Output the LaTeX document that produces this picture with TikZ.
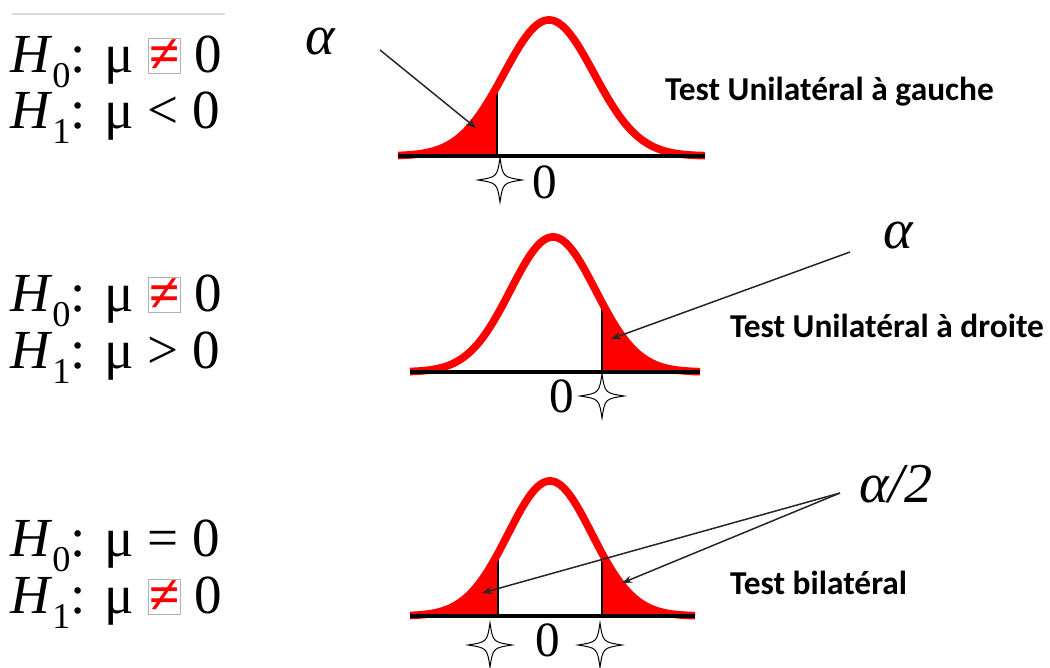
\documentclass[tikz,border=0pt]{standalone}
\usepackage{fontspec}
\setmainfont{Liberation Serif}
\newfontfamily\calibri{Carlito}
\usetikzlibrary{positioning, arrows.meta, calc}

% signe different encadre
\newcommand{\difere}{{\setlength{\fboxsep}{0.8pt}\setlength{\fboxrule}{0.5pt}\fcolorbox{gray!60}{white}{\textcolor{red}{\bfseries ≠}}}}
% H indice
\newcommand{\hyp}[1]{\textit{H}\raisebox{-0.28em}{\fontsize{31}{34}\selectfont #1}}

\tikzset{
  declare function={gauss(\x,\m,\s)=exp(-0.5*((\x-\m)/\s)^2);},
  courbe/.style={red, line width=2.3mm},
  axe/.style={black, line width=1.1mm},
  coupe/.style={black, line width=0.8mm},
  fleche/.style={black!85, line width=0.45mm, -{Stealth[length=3mm, width=2.2mm]}},
  hypo/.style={anchor=base west, inner sep=0pt, font=\fontsize{47}{52}\selectfont},
  titre/.style={anchor=west, inner sep=0pt, font=\calibri\bfseries\fontsize{28.5}{32}\selectfont},
  alfa/.style={inner sep=0pt, font=\fontsize{48}{52}\selectfont\itshape},
  zero/.style={inner sep=0pt, font=\fontsize{42}{46}\selectfont},
  etoile/.pic={\filldraw[fill=white, draw=black, line width=0.3mm]
    (0,-22) .. controls (3,-3) .. (22,0) .. controls (3,3) .. (0,22)
    .. controls (-3,3) .. (-22,0) .. controls (-3,-3) .. cycle;}
}

\begin{document}
\begin{tikzpicture}[x=0.3mm, y=-0.3mm]
    \useasboundingbox (0,0) rectangle (1050,668);
    % trait du haut
    \draw[blue!15!gray!25, line width=0.8mm] (12,14) -- (225,14);

    % Hypotheses
    \node[hypo] (hzeroa) at (10,72) {\hyp{0}: μ \difere{} 0};
    \node[hypo] (huna) at (10,128) {\hyp{1}: μ < 0};
    \node[hypo] (hzerob) at (10,311) {\hyp{0}: μ \difere{} 0};
    \node[hypo] (hunb) at (10,368) {\hyp{1}: μ > 0};
    \node[hypo] (hzeroc) at (10,556) {\hyp{0}: μ = 0};
    \node[hypo] (hunc) at (10,613) {\hyp{1}: μ \difere{} 0};

    % Test a gauche
    \fill[red] (398,156) -- plot[domain=398:497, samples=60] (\x, {156-136*gauss(\x,549,45)}) -- (497,156) -- cycle;
    \draw[coupe] (497,156) -- (497, {156-136*gauss(497,549,45)});
    \draw[courbe] plot[domain=398:705, samples=150] (\x, {156-136*gauss(\x,549,45)});
    \draw[axe] (398,156) -- (705,156);
    \pic at (500,180) {etoile};
    \node[zero] (zeroa) at (545,182) {0};
    \node[alfa] (alfaa) at (320,42) {α};
    \node[titre] (testa) at (665,92) {Test Unilatéral à gauche};
    \coordinate (departa) at (380,50);
    \coordinate (pointea) at (476,128);
    \draw[fleche] (departa) -- (pointea);

    % Test a droite
    \fill[red] (602,372) -- plot[domain=602:700, samples=60] (\x, {372-135*gauss(\x,553,42.5)}) -- (700,372) -- cycle;
    \draw[coupe] (602,372) -- (602, {372-135*gauss(602,553,42.5)});
    \draw[courbe] plot[domain=410:700, samples=150] (\x, {372-135*gauss(\x,553,42.5)});
    \draw[axe] (410,372) -- (700,372);
    \pic at (602,396) {etoile};
    \node[zero] (zerob) at (562,396) {0};
    \node[alfa] (alfab) at (898,236) {α};
    \node[titre] (testb) at (730,326) {Test Unilatéral à droite};
    \coordinate (departb) at (850,252);
    \coordinate (pointeb) at (611,339);
    \draw[fleche] (departb) -- (pointeb);

    % Test bilateral
    \fill[red] (410,616) -- plot[domain=410:498, samples=60] (\x, {616-135*gauss(\x,550,42)}) -- (498,616) -- cycle;
    \fill[red] (602,616) -- plot[domain=602:695, samples=60] (\x, {616-135*gauss(\x,550,42)}) -- (695,616) -- cycle;
    \draw[coupe] (498,616) -- (498, {616-135*gauss(498,550,42)});
    \draw[coupe] (602,616) -- (602, {616-135*gauss(602,550,42)});
    \draw[courbe] plot[domain=410:695, samples=150] (\x, {616-135*gauss(\x,550,42)});
    \draw[axe] (410,616) -- (695,616);
    \pic at (490,645) {etoile};
    \pic at (600,645) {etoile};
    \node[zero] (zeroc) at (548,640) {0};
    \node[alfa] (alfac) at (896,484) {α/2};
    \node[titre] (testc) at (730,583) {Test bilatéral};
    \coordinate (departc) at (840,493);
    \coordinate (pointec) at (482,593);
    \coordinate (pointed) at (622,583);
    \foreach \p in {pointec, pointed}
      \draw[fleche] (departc) -- (\p);
\end{tikzpicture}
\end{document}
